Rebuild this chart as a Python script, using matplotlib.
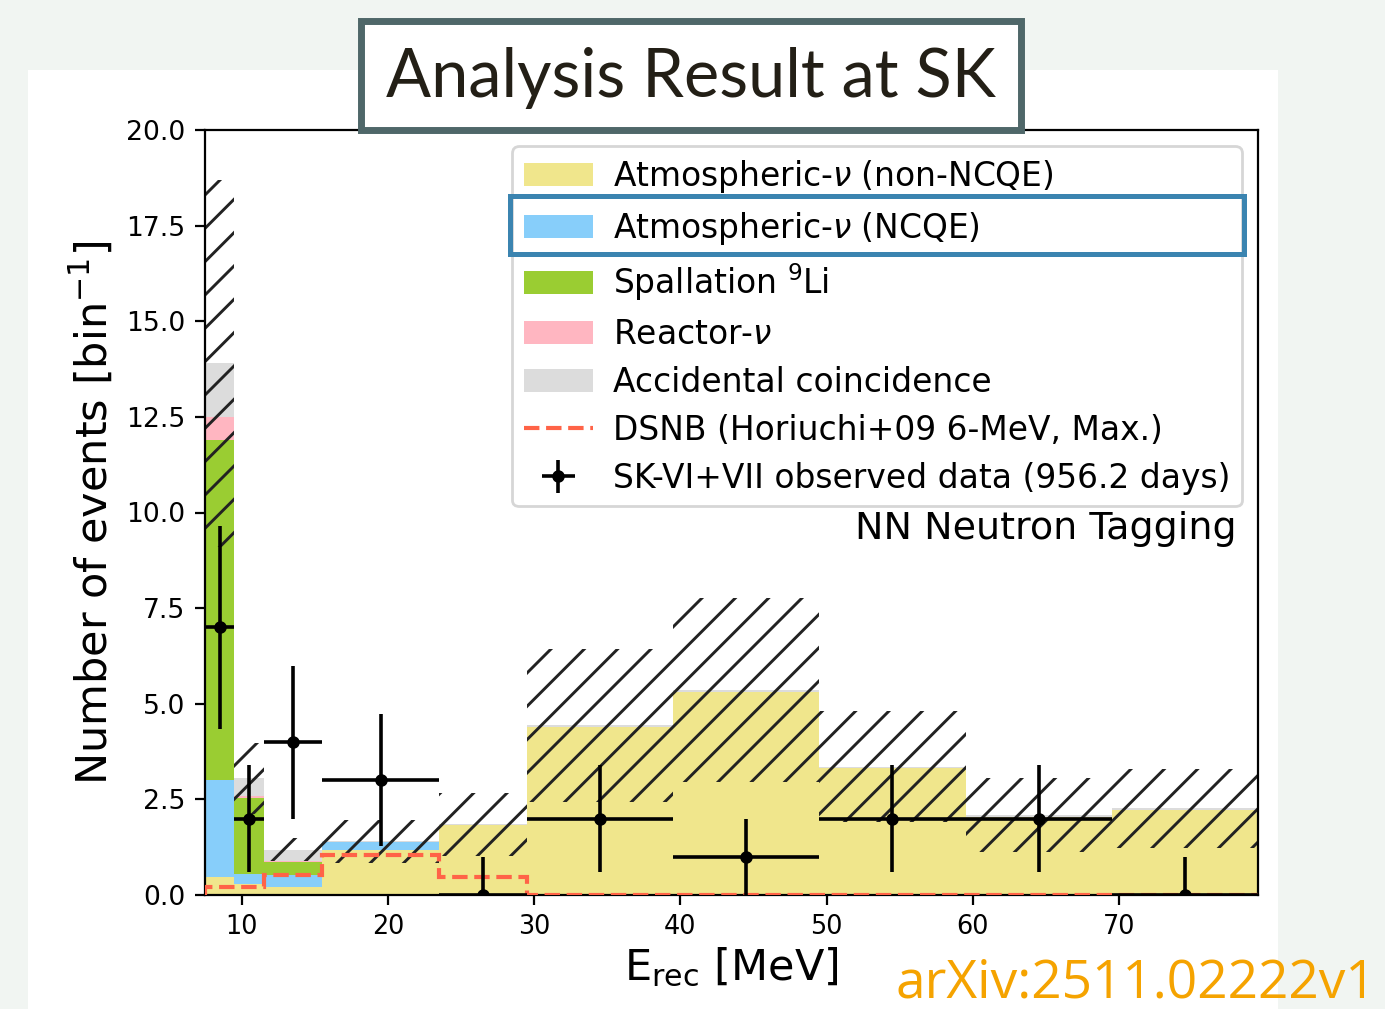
import matplotlib
matplotlib.use("Agg")
import matplotlib.pyplot as plt
import numpy as np
from matplotlib.patches import Rectangle

# Energy binning (MeV)
bin_edges = [7.5, 9.5, 11.5, 15.5, 23.5, 29.5, 39.5, 49.5, 59.5, 69.5, 79.5]

# Expected background per bin, stacked bottom to top
atm_non_ncqe = [0.48, 0.28, 0.22, 1.18, 1.82, 4.40, 5.32, 3.31, 2.05, 2.23]
atm_ncqe = [2.52, 0.28, 0.30, 0.21, 0.01, 0.0, 0.0, 0.0, 0.0, 0.0]
spallation = [8.90, 1.97, 0.33, 0.0, 0.0, 0.0, 0.0, 0.0, 0.0, 0.0]
reactor = [0.60, 0.06, 0.03, 0.0, 0.0, 0.0, 0.0, 0.0, 0.0, 0.0]
accidental = [1.40, 0.46, 0.30, 0.01, 0.02, 0.04, 0.04, 0.04, 0.04, 0.04]

# Systematic uncertainty on the total background
bkg_err = [4.80, 0.92, 0.30, 0.56, 0.82, 2.00, 2.40, 1.45, 0.97, 1.03]

# DSNB signal model
dsnb = [0.20, 0.20, 0.52, 1.05, 0.48, 0.01, 0.01, 0.0, 0.0, 0.0]

# Observed data
data_x = [8.5, 10.5, 13.5, 19.5, 26.5, 34.5, 44.5, 54.5, 64.5, 74.5]
data_xerr = [1, 1, 2, 4, 3, 5, 5, 5, 5, 5]
data_y = [7, 2, 4, 3, 0, 2, 1, 2, 2, 0]
data_err_lo = [2.65, 1.41, 2.0, 1.73, 0.0, 1.41, 1.0, 1.41, 1.41, 0.0]
data_err_hi = [2.65, 1.41, 2.0, 1.73, 1.0, 1.41, 1.0, 1.41, 1.41, 1.0]

comp_names = ["Atmospheric-$\\nu$ (non-NCQE)", "Atmospheric-$\\nu$ (NCQE)",
              "Spallation $^{9}$Li", "Reactor-$\\nu$", "Accidental coincidence"]
comp_colors = ["#f0e68c", "#87cefa", "#9acd32", "#ffb6c1", "#dcdcdc"]

W, H = 1385, 1009
plt.rcParams["hatch.linewidth"] = 1.05
fig = plt.figure(figsize=(W / 200, H / 200), dpi=200, facecolor="#f1f5f2")

# white panel behind the plot
fig.add_artist(Rectangle((28 / W, 0), 1250 / W, 1 - 70 / H, transform=fig.transFigure,
                         facecolor="white", edgecolor="none", zorder=-10))

ax = fig.add_axes([205 / W, 1 - 895 / H, 1053 / W, 765 / H])

edges = np.array(bin_edges)
components = [atm_non_ncqe, atm_ncqe, spallation, reactor, accidental]
base = np.zeros(len(atm_non_ncqe))
for vals, name, col in zip(components, comp_names, comp_colors):
    top = base + np.array(vals)
    ax.stairs(top, edges, baseline=base.copy(), fill=True, color=col, label=name, zorder=1)
    base = top

total = base
err = np.array(bkg_err)
centers = 0.5 * (edges[1:] + edges[:-1])
widths = np.diff(edges)
ax.bar(centers, 2 * err, width=widths, bottom=total - err, fill=False, hatch="//",
       edgecolor="#222222", linewidth=0, zorder=2)

ax.stairs(dsnb, edges, color="#ff6347", linestyle="--", linewidth=1.5,
          label="DSNB (Horiuchi+09 6-MeV, Max.)", zorder=3)

ax.errorbar(data_x, data_y, xerr=data_xerr, yerr=[data_err_lo, data_err_hi],
            fmt="o", color="black", markersize=3.5, elinewidth=1.3, capsize=0,
            label="SK-VI+VII observed data (956.2 days)", zorder=4)

ax.set_xlim(7.5, 79.5)
ax.set_ylim(0, 20)
ax.set_xticks([10, 20, 30, 40, 50, 60, 70])
ax.set_yticks(np.arange(0, 20.1, 2.5))
ax.set_yticklabels([f"{v:.1f}" for v in np.arange(0, 20.1, 2.5)])
ax.tick_params(axis="y", labelsize=9.6)
ax.tick_params(axis="x", labelsize=9.2)
ax.set_xlabel("E$_{\\rm rec}$ [MeV]", fontsize=15.5, labelpad=2)
ax.set_ylabel("Number of events [bin$^{-1}$]", fontsize=15.5, labelpad=4)

handles, labels = ax.get_legend_handles_labels()
leg = ax.legend(handles, labels, loc="upper right", fontsize=11.85, labelspacing=0.45,
                handlelength=2.1, handletextpad=0.6, borderpad=0.35, borderaxespad=0.5)

ax.text(0.98, 0.478, "NN Neutron Tagging", transform=ax.transAxes, ha="right",
        va="center", fontsize=13.7)

# highlight around the NCQE legend entry
fig.add_artist(Rectangle((510 / W, 1 - 254 / H), 734 / W, 58 / H, transform=fig.transFigure,
                         facecolor="none", edgecolor="#3b84b0", linewidth=1.8, zorder=6))

# title box
fig.add_artist(Rectangle((361 / W, 1 - 130 / H), 660 / W, 109 / H, transform=fig.transFigure,
                         facecolor="white", edgecolor="#4f6769", linewidth=2.5, zorder=5))
fig.text(691 / W, 1 - 78 / H, "Analysis Result at SK", ha="center", va="center",
         fontsize=24, family="Lato", color="#231f16", zorder=7)

fig.text(896 / W, 1 - 997 / H, "arXiv:2511.02222v1", ha="left", va="baseline",
         fontsize=19.2, family="Open Sans", color="#f5a300", zorder=7)

fig.savefig("out.png", dpi=200, facecolor=fig.get_facecolor())
